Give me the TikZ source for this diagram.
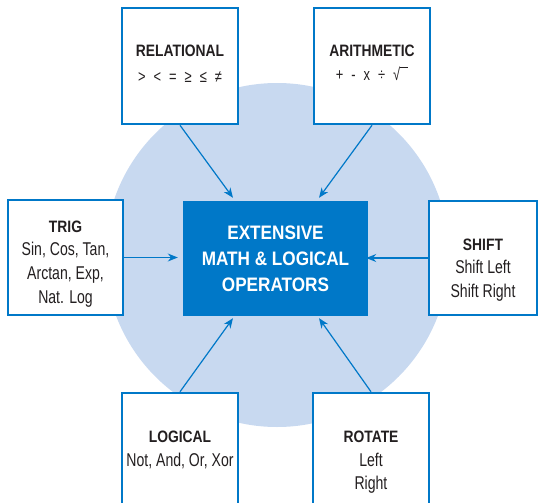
\documentclass[tikz,border=0pt]{standalone}
\usepackage{fontspec}
\setmainfont{Liberation Sans}
\newfontfamily\ttlfont[FakeStretch=0.84]{Liberation Sans}
\newfontfamily\bodfont[FakeStretch=0.76]{Liberation Sans}
\newfontfamily\cenfont[FakeStretch=0.88]{Liberation Sans}
\usetikzlibrary{arrows.meta,calc}
\definecolor{bblue}{RGB}{0,120,200}
\definecolor{lblue}{RGB}{200,217,240}
\definecolor{txt}{RGB}{35,31,32}
\begin{document}
\begin{tikzpicture}[x=1pt,y=-1pt,
  box/.style={draw=bblue,line width=2.5pt,fill=white,minimum width=116pt,minimum height=116pt,inner sep=0pt},
  ttl/.style={anchor=base,inner sep=0pt,text=txt,font=\ttlfont\bfseries\fontsize{16.5}{18}\selectfont},
  bod/.style={anchor=base,inner sep=0pt,text=txt,font=\bodfont\fontsize{18.5}{22}\selectfont},
  sym/.style={anchor=base,inner sep=0pt,text=txt,font=\bodfont\fontsize{17}{18}\selectfont},
  cen/.style={anchor=base,inner sep=0pt,text=white,font=\cenfont\bfseries\fontsize{19.5}{22}\selectfont},
  arr/.style={draw=bblue,line width=1.2pt,-{Stealth[length=10pt,width=8pt]}}]
\clip (0,0) rectangle (538,503);
\node[circle,fill=lblue,minimum size=344pt,inner sep=0pt] (bg) at (277,255) {};
\node[fill=bblue,minimum width=185pt,minimum height=115pt,inner sep=0pt] (core) at (275.5,258.5) {};
\node[cen] (c1) at (275.5,239) {EXTENSIVE};
\node[cen] (c2) at (275.5,265) {MATH \& LOGICAL};
\node[cen] (c3) at (275.5,291) {OPERATORS};

\node[box] (rel) at (180,66) {};
\node[box] (ari) at (372,66) {};
\node[box,minimum width=115pt,minimum height=115pt] (trig) at (65.5,257.5) {};
\node[box,minimum width=108pt,minimum height=114pt] (shift) at (483,258) {};
\node[box] (logic) at (180,451) {};
\node[box] (rot) at (371,451) {};

\node[ttl] (relT) at (180,57) {RELATIONAL};
\node[sym] (relB) at (180,82) {>\hspace{8pt}<\hspace{8pt}=\hspace{8pt}≥\hspace{8pt}≤\hspace{8pt}≠};
\node[ttl] (ariT) at (372,57) {ARITHMETIC};
\node[sym] (ariB) at (368,81) {+\hspace{8pt}-\hspace{8pt}x\hspace{8pt}÷\hspace{8pt}√};
\draw[txt,line width=0.7pt] ([xshift=-0.5pt,yshift=-0.4pt]ariB.north east) -- ++(8,0);
\node[ttl] (trigT) at (65.5,232) {TRIG};
\node[bod] (trig1) at (65.5,255) {Sin, Cos, Tan,};
\node[bod] (trig2) at (65.5,279) {Arctan, Exp,};
\node[bod] (trig3) at (65.5,303) {Nat. Log};
\node[ttl] (shiftT) at (483,250) {SHIFT};
\node[bod] (shift1) at (483,273) {Shift Left};
\node[bod] (shift2) at (483,297) {Shift Right};
\node[ttl] (logicT) at (180,442) {LOGICAL};
\node[bod] (logic1) at (180,466) {Not, And, Or, Xor};
\node[ttl] (rotT) at (371,442) {ROTATE};
\node[bod] (rot1) at (371,466) {Left};
\node[bod] (rot2) at (371,489) {Right};

\draw[arr] (rel.south) -- ($(core.north)+(-42.5,-3)$);
\draw[arr] (ari.south) -- ($(core.north)+(43.5,-3)$);
\draw[arr,shorten >=5pt] (trig.east) -- (trig.east -| core.west);
\draw[arr,shorten >=-2pt] (shift.west) -- (shift.west -| core.east);
\draw[arr] (logic.north) -- ($(core.south)+(-42.5,2)$);
\draw[arr] (rot.north) -- ($(core.south)+(43.5,2)$);
\end{tikzpicture}
\end{document}
